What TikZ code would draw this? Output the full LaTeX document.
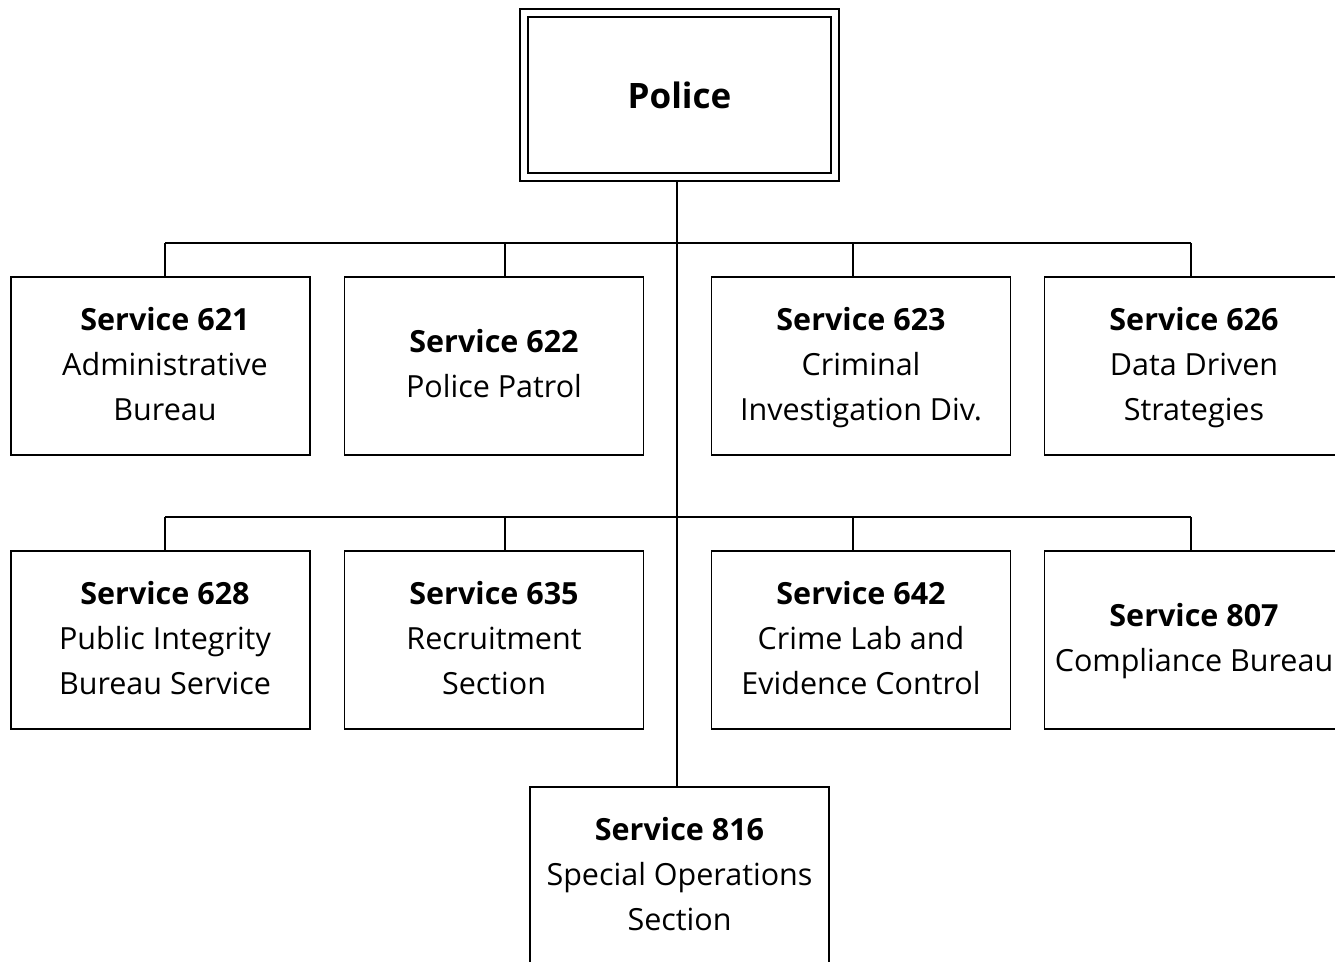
\documentclass[tikz,border=0pt]{standalone}
\usepackage{fontspec}
\setmainfont{Open Sans}
\usetikzlibrary{backgrounds}
\begin{document}
\begin{tikzpicture}[x=1pt,y=-1pt,
  unitbox/.style={draw, line width=1.8pt, fill=white, minimum width=299pt,
    minimum height=178pt, inner sep=0pt},
  unittext/.style={inner sep=0pt, align=center,
    font=\fontsize{30.5}{45}\selectfont},
  topbox/.style={draw, double, double distance=6pt, line width=1.8pt, fill=white,
    minimum width=311pt, minimum height=164pt, inner sep=0pt,
    font=\fontsize{35}{42}\selectfont\bfseries},
  link/.style={line width=1.8pt}]
\useasboundingbox (0,0) rectangle (1335,961);

% head of the department
\node[topbox] (police) at (679.5,95) {Police};

% first row of services
\node[unitbox] (s621) at (160.5,366) {};
\node[unittext] (t621) at (165,366) {\strut{\bfseries Service 621}\\Administrative\\Bureau\strut};
\node[unitbox] (s622) at (494,366) {};
\node[unittext] (t622) at (494,366) {\strut{\bfseries Service 622}\\Police Patrol\strut};
\node[unitbox] (s623) at (861,366) {};
\node[unittext] (t623) at (861,366) {\strut{\bfseries Service 623}\\Criminal\\Investigation Div.\strut};
\node[unitbox] (s626) at (1194,366) {};
\node[unittext] (t626) at (1194,366) {\strut{\bfseries Service 626}\\Data Driven\\Strategies\strut};

% second row of services
\node[unitbox] (s628) at (160.5,640) {};
\node[unittext] (t628) at (165,640) {\strut{\bfseries Service 628}\\Public Integrity\\Bureau Service\strut};
\node[unitbox] (s635) at (494,640) {};
\node[unittext] (t635) at (494,640) {\strut{\bfseries Service 635}\\Recruitment\\Section\strut};
\node[unitbox] (s642) at (861,640) {};
\node[unittext] (t642) at (861,640) {\strut{\bfseries Service 642}\\Crime Lab and\\Evidence Control\strut};
\node[unitbox] (s807) at (1194,640) {};
\node[unittext] (t807) at (1194,640) {\strut{\bfseries Service 807}\\Compliance Bureau\strut};

% bottom service
\node[unitbox] (s816) at (679.5,876) {};
\node[unittext] (t816) at (679.5,876) {\strut{\bfseries Service 816}\\Special Operations\\Section\strut};

% junction points on the two buses
\coordinate (trunk) at (677,0);
\coordinate (a1) at (165,243);
\coordinate (a2) at (505,243);
\coordinate (a3) at (853,243);
\coordinate (a4) at (1191,243);
\coordinate (b1) at (165,517);
\coordinate (b2) at (505,517);
\coordinate (b3) at (853,517);
\coordinate (b4) at (1191,517);

\begin{scope}[on background layer]
  \draw[link] (police.south -| trunk) -- (s816.north -| trunk);
  \draw[link] (a1) -- (a4);
  \draw[link] (b1) -- (b4);
  \draw[link] (a1) -- (a1 |- s621.north);
  \draw[link] (a2) -- (a2 |- s622.north);
  \draw[link] (a3) -- (a3 |- s623.north);
  \draw[link] (a4) -- (a4 |- s626.north);
  \draw[link] (b1) -- (b1 |- s628.north);
  \draw[link] (b2) -- (b2 |- s635.north);
  \draw[link] (b3) -- (b3 |- s642.north);
  \draw[link] (b4) -- (b4 |- s807.north);
\end{scope}
\end{tikzpicture}
\end{document}
